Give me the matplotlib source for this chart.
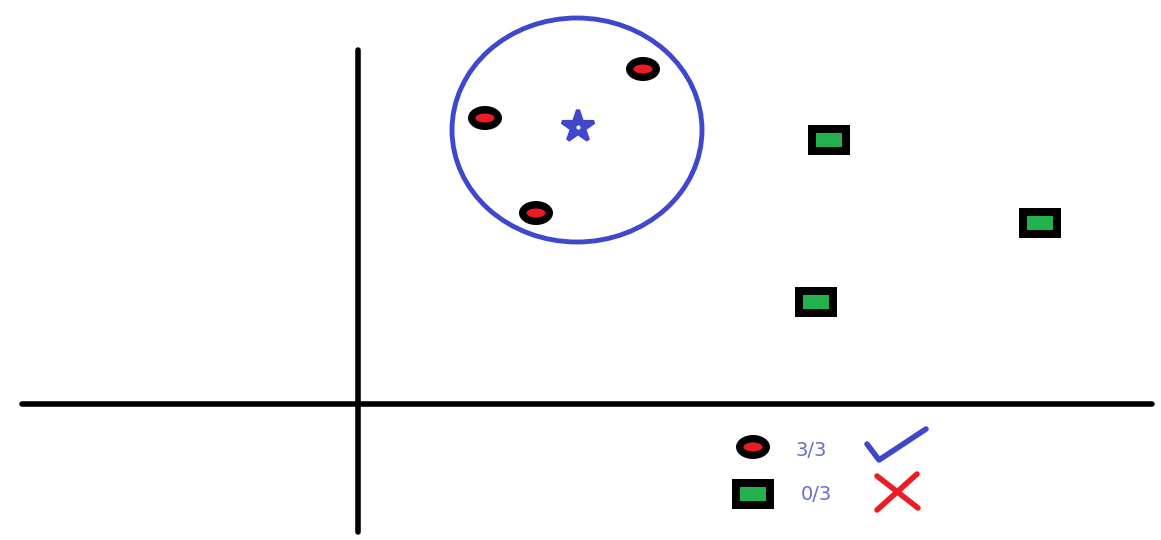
import matplotlib.pyplot as plt
from matplotlib.patches import Ellipse, Rectangle

# pontos da classe vermelha (elipses) e verde (retangulos), em coordenadas da imagem
red_x = [643, 485, 536]
red_y = [69, 118, 213]
green_x = [829, 1040, 816]
green_y = [140, 223, 302]

# ponto a classificar e vizinhanca
query = (578, 127)
circle_center = (577, 130)
circle_w, circle_h = 250, 224

# legenda
legend_labels = ['3/3', '0/3']

BLUE = '#3f48cc'
RED = '#ed1c24'
GREEN = '#22b14c'

fig = plt.figure(figsize=(11.61, 5.40), dpi=100)
ax = fig.add_axes([0, 0, 1, 1])
ax.set_xlim(0, 1161)
ax.set_ylim(540, 0)
ax.axis('off')


def red_point(x, y):
    ax.add_patch(Ellipse((x, y), 34, 24, fc='black', ec='none', zorder=3))
    ax.add_patch(Ellipse((x, y), 19, 9, fc=RED, ec='none', zorder=4))


def green_point(x, y):
    ax.add_patch(Rectangle((x - 21, y - 15), 42, 30, fc='black', ec='none', zorder=3))
    ax.add_patch(Rectangle((x - 13, y - 7), 26, 14, fc=GREEN, ec='none', zorder=4))


# eixos desenhados a mao
ax.plot([22, 1152], [404, 404], color='black', lw=4, solid_capstyle='round')
ax.plot([358, 358], [50, 532], color='black', lw=4, solid_capstyle='round')

# circulo de vizinhanca
ax.add_patch(Ellipse(circle_center, circle_w, circle_h, fc='none', ec=BLUE, lw=3.5, zorder=2))

for x, y in zip(red_x, red_y):
    red_point(x, y)
for x, y in zip(green_x, green_y):
    green_point(x, y)

ax.plot(*query, marker='*', color=BLUE, markersize=24, markeredgewidth=3, zorder=5)
ax.plot(*query, marker='o', color='white', markersize=2, zorder=6)

# legenda
red_point(753, 447)
green_point(753, 494)
ax.text(811, 450, legend_labels[0], color='#6a6ad8', fontsize=14, ha='center', va='center')
ax.text(816, 494, legend_labels[1], color='#6a6ad8', fontsize=14, ha='center', va='center')

# certo e errado
ax.plot([867, 879, 926], [444, 460, 429], color=BLUE, lw=4, solid_capstyle='round',
        solid_joinstyle='round')
ax.plot([877, 918], [476, 508], color=RED, lw=4, solid_capstyle='round')
ax.plot([917, 877], [474, 510], color=RED, lw=4, solid_capstyle='round')

plt.savefig('out.png', dpi=100)
